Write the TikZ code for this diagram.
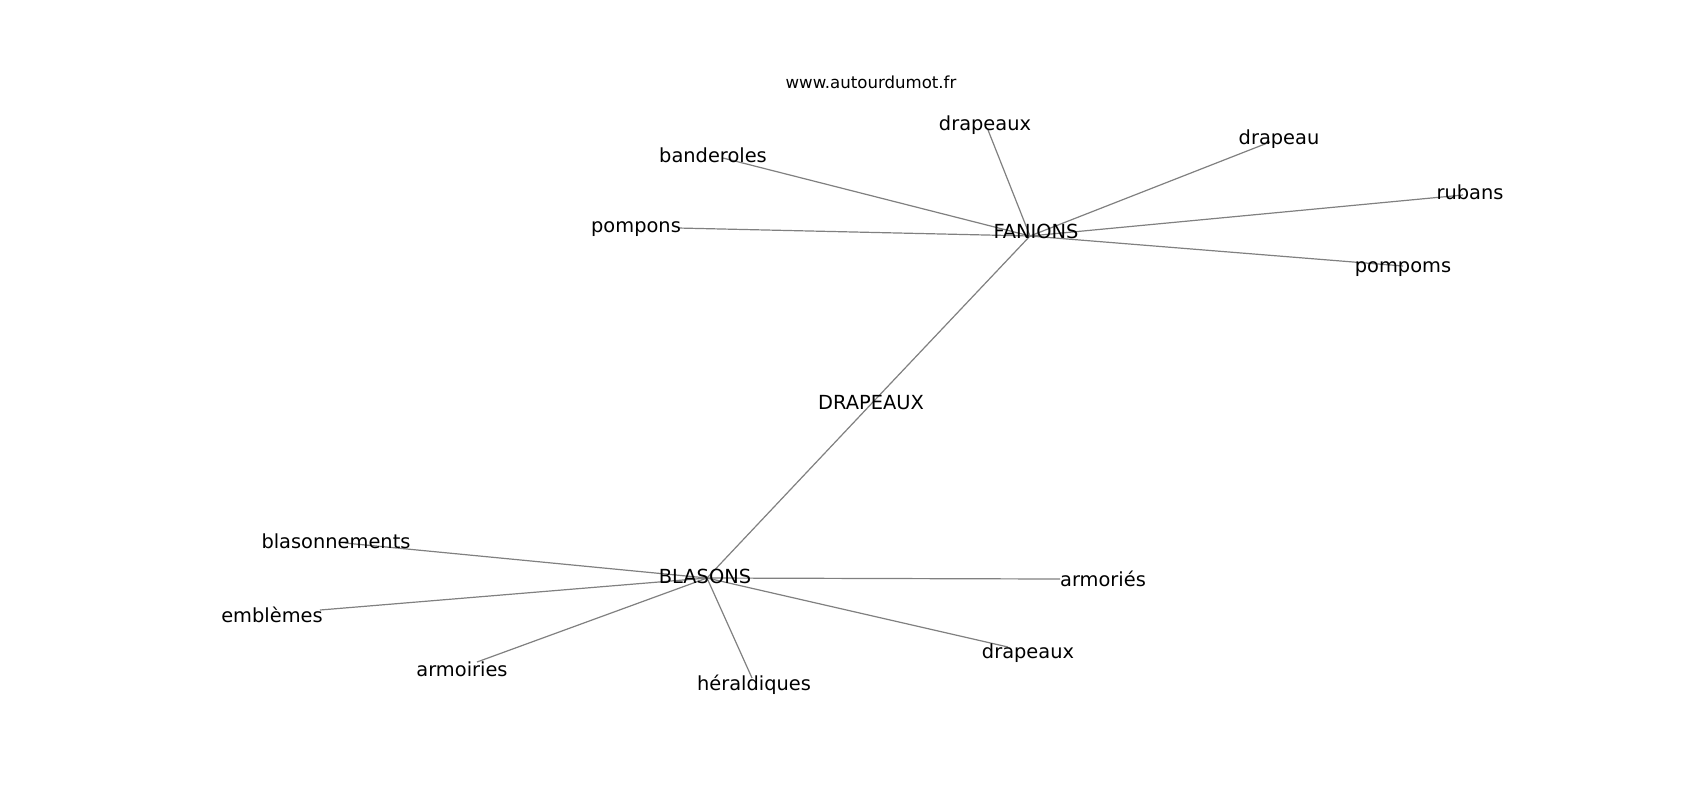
\documentclass[tikz,border=0pt]{standalone}
\usepackage{fontspec}
\setmainfont{DejaVu Sans}
\begin{document}
\begin{tikzpicture}[x=0.5pt,y=-0.5pt,
  lbl/.style={inner sep=0pt, anchor=center, font=\fontsize{9.7pt}{11pt}\selectfont},
  credit/.style={inner sep=0pt, anchor=center, font=\fontsize{8.3pt}{10pt}\selectfont},
  edge/.style={draw=black!50, line width=0.6pt}]
\useasboundingbox[fill=white] (0,0) rectangle (1700,800);
% graph vertices
\coordinate (vF) at (1030,236);
\coordinate (vB) at (707,578);
\coordinate (vD) at (873,402);
\coordinate (v1) at (988,130);
\coordinate (v2) at (1270,142);
\coordinate (v3) at (1463,195);
\coordinate (v4) at (1403,266);
\coordinate (v5) at (723,158);
\coordinate (v6) at (678,228);
\coordinate (v7) at (345,543);
\coordinate (v8) at (320,610);
\coordinate (v9) at (477,662);
\coordinate (v10) at (752,678);
\coordinate (v11) at (1008,647);
\coordinate (v12) at (1060,579);
% edges
\foreach \v in {v1,v2,v3,v4,v5,v6,vD} \draw[edge] (vF) -- (\v);
\foreach \v in {v7,v8,v9,v10,v11,v12,vD} \draw[edge] (vB) -- (\v);
% labels
\node[credit] (www) at (871,82) {www.autourdumot.fr};
\node[lbl] (lF) at (1036,231) {FANIONS};
\node[lbl] (lB) at (705,576) {BLASONS};
\node[lbl] (lD) at (871,403) {DRAPEAUX};
\node[lbl] (l1) at (985,125) {drapeaux};
\node[lbl] (l2) at (1279,139) {drapeau};
\node[lbl] (l3) at (1470,192) {rubans};
\node[lbl] (l4) at (1403,269) {pompoms};
\node[lbl] (l5) at (713,155) {banderoles};
\node[lbl] (l6) at (636,229) {pompons};
\node[lbl] (l7) at (336,541) {blasonnements};
\node[lbl] (l8) at (272,615) {emblèmes};
\node[lbl] (l9) at (462,669) {armoiries};
\node[lbl] (l10) at (754,685) {héraldiques};
\node[lbl] (l11) at (1028,653) {drapeaux};
\node[lbl] (l12) at (1103,579) {armoriés};
\end{tikzpicture}
\end{document}
